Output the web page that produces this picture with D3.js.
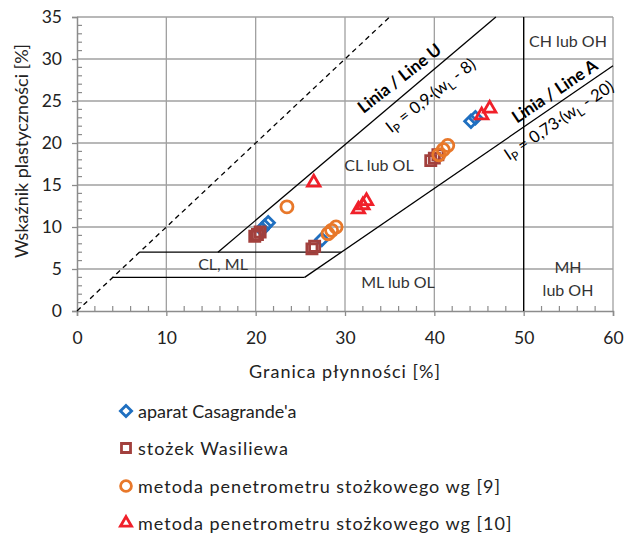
<!DOCTYPE html>
<html>
<head>
<meta charset="utf-8">
<script src="https://cdn.jsdelivr.net/npm/d3@7"></script>
<style>
  html, body { margin: 0; padding: 0; background: #fff; }
  svg { display: block; font-family: Lato, "Open Sans", sans-serif; }
</style>
</head>
<body>
<svg id="chart" width="627" height="535"></svg>
<script>
// Axis ticks
const xTicks = [0, 10, 20, 30, 40, 50, 60];
const yTicks = [0, 5, 10, 15, 20, 25, 30, 35];

// Plasticity chart data: liquid limit wL [%], plasticity index IP [%]
const casagrandeWL = [20.7, 21.0, 21.4, 27.4, 44.1, 44.6];
const casagrandeIP = [9.7, 10.1, 10.5, 8.5, 22.6, 23.0];
const wasiliewWL = [19.9, 20.2, 20.5, 26.3, 26.6, 39.6, 40.0, 40.4];
const wasiliewIP = [8.9, 9.1, 9.4, 7.4, 7.7, 17.9, 18.2, 18.6];
const cone9WL = [23.5, 28.1, 28.5, 29.0, 40.5, 41.0, 41.5];
const cone9IP = [12.4, 9.2, 9.6, 10.0, 18.6, 19.2, 19.7];
const cone10WL = [26.5, 31.5, 32.0, 32.4, 45.3, 46.2];
const cone10IP = [15.3, 12.1, 12.6, 13.1, 23.3, 24.1];

const seriesNames = [
  "aparat Casagrande'a",
  "stożek Wasiliewa",
  "metoda penetrometru stożkowego wg [9]",
  "metoda penetrometru stożkowego wg [10]"
];

const svg = d3.select("#chart");
const x = d3.scaleLinear().domain([0, 60]).range([77, 613]);
const y = d3.scaleLinear().domain([0, 35]).range([311, 17]);

const gridColor = "#a0a0a0";
const axisColor = "#8c8c8c";
const textColor = "#222";

// Grid lines
svg.append("g").selectAll("line").data(xTicks.slice(1)).join("line")
  .attr("x1", d => x(d)).attr("x2", d => x(d))
  .attr("y1", y(0)).attr("y2", y(35))
  .attr("stroke", gridColor).attr("stroke-width", 1.3);
svg.append("g").selectAll("line").data(yTicks.slice(1)).join("line")
  .attr("x1", x(0)).attr("x2", x(60))
  .attr("y1", d => y(d)).attr("y2", d => y(d))
  .attr("stroke", gridColor).attr("stroke-width", 1.3);

// Axes
const xAxis = svg.append("g").attr("transform", `translate(0,${y(0)})`)
  .call(d3.axisBottom(x).tickValues(xTicks).tickSize(5).tickPadding(16));
const yAxis = svg.append("g").attr("transform", `translate(${x(0)},0)`)
  .call(d3.axisLeft(y).tickValues(yTicks).tickSize(5).tickPadding(10));
[xAxis, yAxis].forEach(g => {
  g.select(".domain").attr("stroke", axisColor).attr("stroke-width", 1.5);
  g.selectAll(".tick line").attr("stroke", axisColor).attr("stroke-width", 1.3);
  g.selectAll(".tick text").attr("fill", textColor).style("font-size", "17.5px")
    .style("font-family", "Lato, sans-serif");
});

// Minor ticks (inside the plot)
const xMinor = d3.range(0, 61, 2).filter(v => v % 10 !== 0);
const yMinor = d3.range(0, 36, 1).filter(v => v % 5 !== 0);
svg.append("g").selectAll("line").data(xMinor).join("line")
  .attr("x1", d => x(d)).attr("x2", d => x(d))
  .attr("y1", y(0)).attr("y2", y(0) - 5)
  .attr("stroke", axisColor).attr("stroke-width", 1.2);
svg.append("g").selectAll("line").data(yMinor).join("line")
  .attr("x1", x(0)).attr("x2", x(0) + 5)
  .attr("y1", d => y(d)).attr("y2", d => y(d))
  .attr("stroke", axisColor).attr("stroke-width", 1.2);

// Classification lines
const lines = svg.append("g").attr("fill", "none").attr("stroke", "#000").attr("stroke-width", 1.3);
const uStart = 8 + 7 / 0.9, uEnd = 8 + 35 / 0.9;
const aStart = 20 + 4 / 0.73, aAt7 = 20 + 7 / 0.73;
lines.append("line") // IP = wL
  .attr("x1", x(0)).attr("y1", y(0)).attr("x2", x(35)).attr("y2", y(35))
  .attr("stroke-dasharray", "5,4");
lines.append("line") // Line U
  .attr("x1", x(uStart)).attr("y1", y(7)).attr("x2", x(uEnd)).attr("y2", y(35));
lines.append("line") // Line A
  .attr("x1", x(aStart)).attr("y1", y(4)).attr("x2", x(60)).attr("y2", y(0.73 * 40));
lines.append("line")
  .attr("x1", x(7)).attr("y1", y(7)).attr("x2", x(aAt7)).attr("y2", y(7));
lines.append("line")
  .attr("x1", x(4)).attr("y1", y(4)).attr("x2", x(aStart)).attr("y2", y(4));
lines.append("line")
  .attr("x1", x(50)).attr("y1", y(0)).attr("x2", x(50)).attr("y2", y(35));

// Region labels
const zone = (tx, ty, t) => svg.append("text").attr("x", tx).attr("y", ty)
  .attr("text-anchor", "middle").attr("fill", "#333").style("font-size", "16px").text(t);
zone(568, 47, "CH lub OH");
zone(379, 171, "CL lub OL");
zone(398, 288, "ML lub OL");
zone(568, 273, "MH");
zone(568, 296, "lub OH");
zone(223, 270, "CL, ML");

// Rotated line labels
function rotated(cx, cy, ang, size, build) {
  const t = svg.append("text").attr("transform", `translate(${cx},${cy}) rotate(${-ang})`)
    .attr("text-anchor", "middle").attr("fill", "#000").style("font-size", size + "px");
  build(t, size);
  return t;
}
function formula(t, size, parts) {
  const subSize = Math.round(size * 0.72);
  t.append("tspan").text("I");
  t.append("tspan").attr("dy", 4).style("font-size", subSize + "px").text("P");
  t.append("tspan").attr("dy", -4).text(parts[0]);
  t.append("tspan").attr("dy", 4).style("font-size", subSize + "px").text("L");
  t.append("tspan").attr("dy", -4).text(parts[1]);
}
rotated(403, 83, 38, 17, t => t.style("font-weight", "bold").text("Linia / Line U"));
rotated(434, 100, 38, 16.5, (t, s) => formula(t, s, [" = 0,9·(w", " - 8)"]));
rotated(558, 96, 34, 17, t => t.style("font-weight", "bold").text("Linia / Line A"));
rotated(562, 125, 34, 16.5, (t, s) => formula(t, s, [" = 0,73·(w", " - 20)"]));

// Axis titles
svg.append("text").attr("x", (x(0) + x(60)) / 2).attr("y", 378).attr("text-anchor", "middle")
  .attr("fill", textColor).style("font-size", "18px").style("letter-spacing", "1px")
  .text("Granica płynności [%]");
svg.append("text").attr("transform", "translate(28,151) rotate(-90)").attr("text-anchor", "middle")
  .attr("fill", textColor).style("font-size", "18px").text("Wskaźnik plastyczności [%]");

// Data series
const series = [
  { wl: casagrandeWL, ip: casagrandeIP, color: "#1f6fc0", sym: d3.symbolDiamond2, size: 100 },
  { wl: wasiliewWL, ip: wasiliewIP, color: "#a2403d", sym: d3.symbolSquare2, size: 130 },
  { wl: cone9WL, ip: cone9IP, color: "#e8782a", sym: d3.symbolCircle, size: 115 },
  { wl: cone10WL, ip: cone10IP, color: "#f0202a", sym: d3.symbolTriangle2, size: 110 }
];
series.forEach(s => {
  const path = d3.symbol().type(s.sym).size(s.size)();
  svg.append("g").selectAll("path").data(s.wl.map((v, i) => [v, s.ip[i]])).join("path")
    .attr("d", path)
    .attr("transform", d => `translate(${x(d[0])},${y(d[1])})`)
    .attr("fill", "none").attr("stroke", s.color).attr("stroke-width", 2.8);
});

// Legend
const legendY = [411, 448, 486, 523];
const legendSpacing = [0, 1, 1, 1];
series.forEach((s, i) => {
  const path = d3.symbol().type(s.sym).size(s.size * 0.8)();
  svg.append("path").attr("d", path)
    .attr("transform", `translate(126,${legendY[i]})`)
    .attr("fill", "none").attr("stroke", s.color).attr("stroke-width", 2.8);
  svg.append("text").attr("x", 138).attr("y", legendY[i] + 6.5)
    .attr("fill", textColor).style("font-size", "18px")
    .style("letter-spacing", legendSpacing[i] + "px").text(seriesNames[i]);
});
</script>
</body>
</html>
